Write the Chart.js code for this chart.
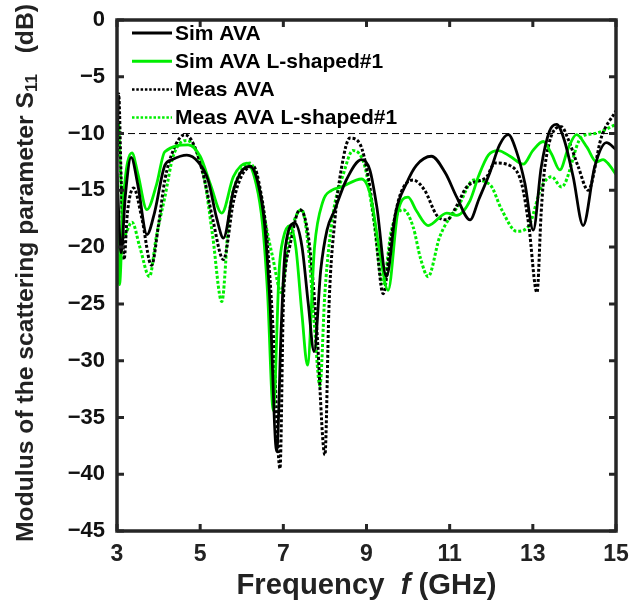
<!DOCTYPE html>
<html>
<head>
<meta charset="utf-8">
<script src="https://cdn.jsdelivr.net/npm/chart.js@4/dist/chart.umd.min.js"></script>
<style>
  html, body { margin: 0; padding: 0; background: #fff; }
  #wrap { width: 629px; height: 608px; }
</style>
</head>
<body>
<div id="wrap"><canvas id="c" width="629" height="608"></canvas></div>
<script>
// Reflection coefficient |S11| (dB) versus frequency (GHz)
const seriesNames = ['Sim AVA', 'Sim AVA L-shaped#1', 'Meas AVA', 'Meas AVA L-shaped#1'];
const yTickValues = [0, -5, -10, -15, -20, -25, -30, -35, -40, -45];
const xTickValues = [3, 5, 7, 9, 11, 13, 15];
const thresholdDb = -10;

// Simulated antipodal Vivaldi antenna
const simAvaFreq = [3.0, 3.1, 3.2, 3.34, 3.5, 3.72, 3.9, 4.15, 4.32, 4.68, 4.95, 5.19, 5.4, 5.56, 5.8, 6.0, 6.2, 6.4, 6.55, 6.68, 6.84, 6.95, 7.05, 7.28, 7.45, 7.6, 7.74, 7.9, 8.05, 8.24, 8.5, 8.88, 9.08, 9.25, 9.48, 9.7, 9.96, 10.2, 10.56, 10.9, 11.17, 11.49, 11.7, 11.97, 12.2, 12.41, 12.6, 12.81, 13.01, 13.2, 13.4, 13.57, 13.75, 13.97, 14.21, 14.49, 14.77, 15.0];
const simAvaDb   = [-13.5, -20.5, -15.5, -12.1, -14.5, -18.9, -17.0, -12.8, -12.3, -11.9, -12.5, -14.1, -17.5, -19.2, -15.0, -13.3, -12.9, -14.5, -18.0, -25.0, -38.0, -27.0, -20.0, -17.9, -20.0, -25.0, -29.2, -22.0, -18.5, -16.7, -14.2, -12.3, -13.2, -16.5, -22.6, -17.0, -14.4, -12.8, -12.0, -13.5, -15.6, -17.6, -15.8, -13.4, -11.0, -10.1, -11.5, -14.4, -18.5, -13.0, -9.8, -9.2, -10.5, -13.8, -18.1, -12.9, -10.8, -11.4];

// Simulated AVA with L-shaped slots
const simLFreq = [3.0, 3.06, 3.15, 3.36, 3.5, 3.72, 3.95, 4.15, 4.71, 5.0, 5.25, 5.52, 5.8, 6.12, 6.35, 6.5, 6.62, 6.76, 6.9, 7.0, 7.16, 7.3, 7.45, 7.58, 7.75, 7.95, 8.16, 8.4, 8.88, 9.1, 9.3, 9.52, 9.75, 10.0, 10.2, 10.48, 10.93, 11.17, 11.49, 11.7, 11.93, 12.17, 12.45, 12.77, 13.0, 13.25, 13.45, 13.65, 13.85, 14.05, 14.3, 14.53, 14.69, 14.8, 15.0];
const simLDb   = [-15.1, -23.3, -16.0, -11.7, -13.5, -16.7, -14.5, -11.6, -11.0, -12.0, -14.5, -17.0, -13.8, -12.6, -14.5, -18.0, -24.0, -34.4, -22.0, -19.2, -18.1, -20.0, -26.0, -30.4, -20.0, -16.0, -15.0, -14.7, -14.0, -15.5, -20.0, -23.8, -17.0, -15.6, -16.8, -18.1, -17.0, -17.2, -15.9, -13.7, -11.9, -11.5, -12.0, -12.7, -11.5, -10.7, -11.8, -13.2, -11.3, -10.1, -11.2, -12.5, -12.3, -12.6, -13.6];

// Measured AVA
const measAvaFreq = [3.0, 3.04, 3.1, 3.17, 3.25, 3.4, 3.6, 3.83, 4.0, 4.15, 4.35, 4.63, 4.85, 5.1, 5.3, 5.56, 5.8, 6.0, 6.28, 6.45, 6.6, 6.75, 6.92, 7.0, 7.04, 7.15, 7.4, 7.6, 7.8, 8.0, 8.1, 8.24, 8.4, 8.6, 8.84, 9.05, 9.2, 9.4, 9.6, 9.8, 10.12, 10.4, 10.69, 10.93, 11.15, 11.41, 11.89, 12.09, 12.49, 12.73, 12.9, 13.1, 13.2, 13.29, 13.69, 13.85, 14.09, 14.33, 14.65, 15.0];
const measAvaDb   = [-12.0, -6.5, -14.0, -21.1, -17.0, -14.8, -17.5, -21.6, -18.0, -14.1, -11.5, -10.1, -11.0, -14.0, -17.5, -21.1, -16.0, -13.7, -12.9, -15.0, -19.0, -27.0, -39.5, -25.0, -22.3, -20.0, -16.7, -19.0, -27.0, -38.3, -25.0, -17.6, -13.0, -10.4, -10.9, -14.0, -18.0, -24.1, -19.0, -15.5, -14.1, -15.0, -17.2, -17.6, -16.5, -14.7, -13.8, -12.6, -12.9, -14.4, -18.0, -24.0, -17.0, -12.9, -9.4, -10.5, -12.9, -15.0, -10.3, -8.0];

// Measured AVA with L-shaped slots
const measLFreq = [3.0, 3.03, 3.08, 3.15, 3.36, 3.55, 3.78, 3.95, 4.15, 4.35, 4.68, 4.9, 5.1, 5.3, 5.52, 5.7, 5.95, 6.2, 6.4, 6.55, 6.75, 6.95, 7.1, 7.44, 7.6, 7.75, 7.88, 8.0, 8.2, 8.45, 8.67, 8.96, 9.15, 9.4, 9.6, 9.88, 10.12, 10.3, 10.48, 10.76, 11.25, 11.57, 11.97, 12.25, 12.61, 12.89, 13.21, 13.45, 13.69, 14.17, 14.49, 15.0];
const measLDb   = [-11.0, -9.0, -13.0, -19.1, -17.8, -20.0, -22.6, -19.0, -15.6, -12.0, -10.6, -11.5, -14.0, -19.0, -24.8, -17.0, -13.5, -12.6, -14.5, -17.5, -21.0, -24.0, -20.0, -16.7, -20.0, -27.0, -32.2, -24.0, -17.0, -13.5, -11.5, -12.9, -17.0, -23.2, -18.5, -16.7, -18.2, -21.0, -22.6, -19.1, -16.1, -14.1, -14.5, -16.7, -18.6, -18.2, -14.7, -13.8, -14.7, -10.3, -10.0, -9.2];

const BLACK = '#000000';
const GREEN = '#00ee00';
const AXIS = '#262626';
const FONT = '"Liberation Sans", Arial, sans-serif';

function pts(xs, ys) { return xs.map((x, i) => ({ x: x, y: ys[i] })); }

function series(label, xs, ys, color, dotted) {
  return {
    label: label,
    data: pts(xs, ys),
    borderColor: color,
    backgroundColor: color,
    borderWidth: dotted ? 3 : 2.8,
    borderDash: dotted ? [3, 2] : [],
    borderCapStyle: 'butt',
    pointRadius: 0,
    fill: false,
    cubicInterpolationMode: 'monotone'
  };
}

// Frame, inward ticks, -10 dB reference line, legend and axis titles
const decorations = {
  id: 'decorations',
  beforeDatasetsDraw(chart) {
    const { ctx, chartArea: a, scales } = chart;
    const y = scales.y.getPixelForValue(thresholdDb);
    ctx.save();
    ctx.strokeStyle = '#000';
    ctx.lineWidth = 1;
    ctx.setLineDash([7, 4]);
    ctx.beginPath();
    ctx.moveTo(a.left, y);
    ctx.lineTo(a.right, y);
    ctx.stroke();
    ctx.restore();
  },
  afterDraw(chart) {
    const { ctx, chartArea: a, scales } = chart;
    ctx.save();
    // ticks
    ctx.strokeStyle = AXIS;
    ctx.lineWidth = 3;
    const tl = 7;
    xTickValues.forEach(v => {
      const x = scales.x.getPixelForValue(v);
      ctx.beginPath();
      ctx.moveTo(x, a.bottom); ctx.lineTo(x, a.bottom - tl);
      ctx.moveTo(x, a.top); ctx.lineTo(x, a.top + tl);
      ctx.stroke();
    });
    yTickValues.forEach(v => {
      const y = scales.y.getPixelForValue(v);
      ctx.beginPath();
      ctx.moveTo(a.left, y); ctx.lineTo(a.left + tl, y);
      ctx.moveTo(a.right, y); ctx.lineTo(a.right - tl, y);
      ctx.stroke();
    });
    // frame
    ctx.lineWidth = 3.5;
    ctx.strokeRect(a.left, a.top, a.right - a.left, a.bottom - a.top);

    // legend
    const lx0 = a.left + 15, lx1 = a.left + 55, tx = a.left + 58;
    ctx.font = 'bold 21px ' + FONT;
    ctx.textBaseline = 'middle';
    ctx.textAlign = 'left';
    chart.data.datasets.forEach((ds, i) => {
      const ly = a.top + 13 + i * 28.2;
      ctx.strokeStyle = ds.borderColor;
      ctx.lineWidth = ds.borderDash.length ? 2.5 : 3;
      ctx.setLineDash(ds.borderDash.length ? [2.5, 1.8] : []);
      ctx.beginPath();
      ctx.moveTo(lx0, ly); ctx.lineTo(lx1, ly);
      ctx.stroke();
      ctx.setLineDash([]);
      ctx.fillStyle = '#000';
      ctx.fillText(ds.label, tx, ly + 1);
    });

    // x-axis title: Frequency f (GHz)
    ctx.fillStyle = '#222';
    const xParts = [
      { t: 'Frequency  ', f: 'bold 30px ' + FONT },
      { t: 'f', f: 'italic bold 30px ' + FONT },
      { t: ' (GHz)', f: 'bold 30px ' + FONT }
    ];
    let w = 0;
    xParts.forEach(p => { ctx.font = p.f; p.w = ctx.measureText(p.t).width; w += p.w; });
    const targetX = 260;
    const sx = targetX / w;
    ctx.save();
    ctx.translate((a.left + a.right) / 2 - targetX / 2, 586);
    ctx.scale(sx, 1);
    ctx.textBaseline = 'middle';
    let cx = 0;
    xParts.forEach(p => { ctx.font = p.f; ctx.fillText(p.t, cx, 0); cx += p.w; });
    ctx.restore();

    // y-axis title: Modulus of the scattering parameter S11 (dB)
    const yParts = [
      { t: 'Modulus of the scattering parameter S', f: 'bold 23px ' + FONT, dy: 0 },
      { t: '11', f: 'bold 16px ' + FONT, dy: 6 },
      { t: '   (dB)', f: 'bold 23px ' + FONT, dy: 0 }
    ];
    w = 0;
    yParts.forEach(p => { ctx.font = p.f; p.w = ctx.measureText(p.t).width; w += p.w; });
    const targetY = 538;
    const sy = targetY / w;
    ctx.save();
    ctx.translate(27, 273 + targetY / 2);
    ctx.rotate(-Math.PI / 2);
    ctx.scale(sy, 1);
    ctx.textBaseline = 'middle';
    cx = 0;
    yParts.forEach(p => { ctx.font = p.f; ctx.fillText(p.t, cx, p.dy); cx += p.w; });
    ctx.restore();

    ctx.restore();
  }
};

new Chart(document.getElementById('c'), {
  type: 'line',
  data: {
    datasets: [
      series(seriesNames[0], simAvaFreq, simAvaDb, BLACK, false),
      series(seriesNames[1], simLFreq, simLDb, GREEN, false),
      series(seriesNames[2], measAvaFreq, measAvaDb, BLACK, true),
      series(seriesNames[3], measLFreq, measLDb, GREEN, true)
    ]
  },
  options: {
    responsive: false,
    animation: false,
    devicePixelRatio: 1,
    layout: { padding: { left: 0, right: 13, top: 20, bottom: 0 } },
    plugins: { legend: { display: false }, tooltip: { enabled: false }, title: { display: false } },
    scales: {
      x: {
        type: 'linear',
        min: 3, max: 15,
        afterFit(s) { s.height = 77; s.paddingLeft = 0; s.paddingRight = 0; },
        afterBuildTicks(s) { s.ticks = xTickValues.map(v => ({ value: v })); },
        grid: { display: false, drawTicks: false },
        border: { display: false },
        ticks: {
          color: '#222',
          padding: 10,
          maxRotation: 0,
          font: { family: FONT, size: 23, weight: 'bold' }
        }
      },
      y: {
        type: 'linear',
        min: -45, max: 0,
        afterFit(s) { s.width = 117; s.paddingTop = 0; s.paddingBottom = 0; },
        afterBuildTicks(s) { s.ticks = yTickValues.map(v => ({ value: v })); },
        grid: { display: false, drawTicks: false },
        border: { display: false },
        ticks: {
          color: '#111',
          padding: 12,
          font: { family: FONT, size: 22, weight: 'bold' },
          callback: v => v === 0 ? '0' : '\u2212' + Math.abs(v)
        }
      }
    }
  },
  plugins: [decorations]
});
</script>
</body>
</html>
